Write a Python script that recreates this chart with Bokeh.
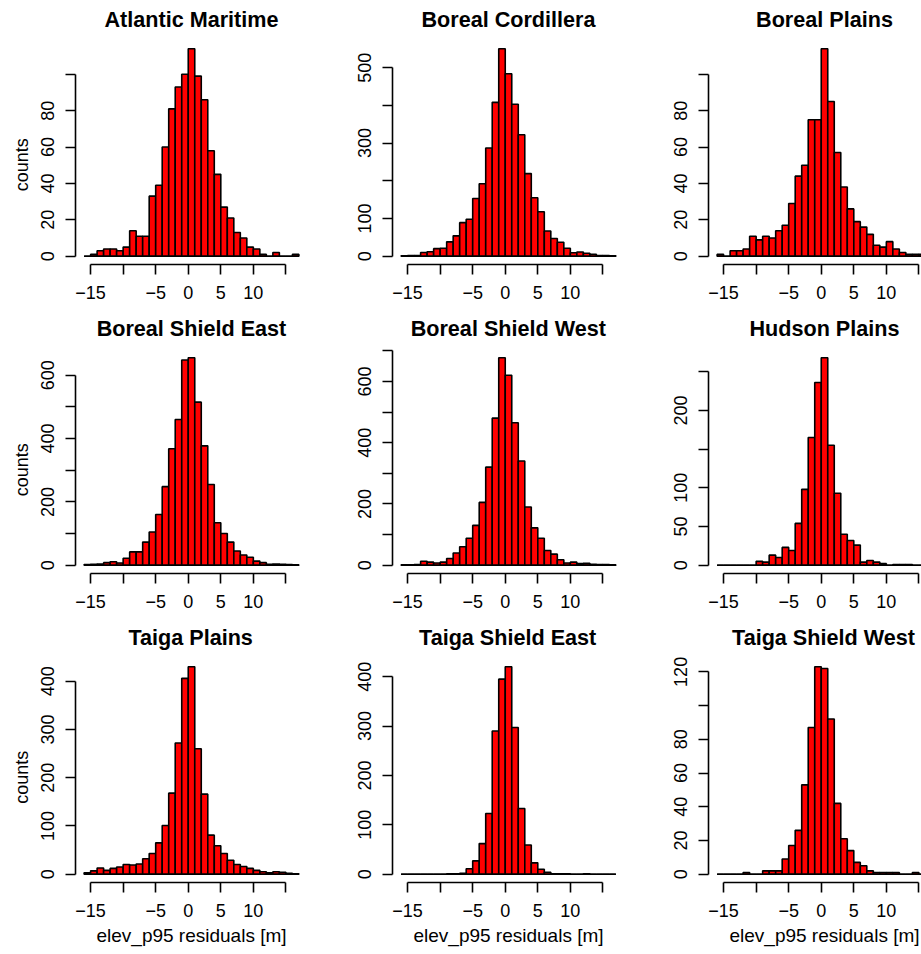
from bokeh.plotting import figure
from bokeh.layouts import gridplot
from bokeh.models import Range1d, FixedTicker, Title
from bokeh.embed import file_html
from bokeh.resources import INLINE

# ---------------- data ----------------
REGIONS = ["Atlantic Maritime", "Boreal Cordillera", "Boreal Plains",
           "Boreal Shield East", "Boreal Shield West", "Hudson Plains",
           "Taiga Plains", "Taiga Shield East", "Taiga Shield West"]

BIN_EDGES = list(range(-16, 18))  # 1 m wide bins, -16 ... 17

atlantic_maritime = [0, 1, 3, 4, 4, 3, 5, 14, 11, 11, 33, 39, 60, 81, 93, 100, 114,
                     99, 86, 58, 45, 27, 21, 13, 10, 5, 4, 1, 0, 2, 0, 0, 1]
boreal_cordillera = [1, 2, 2, 10, 12, 20, 21, 38, 54, 89, 98, 153, 192, 287, 408, 550, 484,
                     403, 322, 219, 155, 118, 67, 47, 37, 21, 9, 11, 8, 5, 2, 2, 1]
boreal_plains = [1, 0, 3, 3, 4, 11, 9, 11, 10, 14, 17, 29, 44, 50, 75, 75, 114,
                 85, 57, 38, 26, 19, 16, 12, 6, 5, 8, 4, 2, 1, 1, 1, 0]
boreal_shield_east = [2, 3, 4, 8, 11, 7, 22, 42, 42, 73, 105, 160, 248, 368, 460, 648, 655,
                      515, 377, 255, 134, 100, 73, 45, 32, 25, 13, 8, 3, 4, 3, 2, 1]
boreal_shield_west = [1, 1, 2, 13, 10, 7, 10, 22, 40, 60, 88, 130, 205, 320, 480, 677, 620,
                      465, 340, 190, 122, 88, 48, 36, 18, 7, 10, 5, 6, 3, 2, 2, 1]
hudson_plains = [0, 0, 0, 0, 0, 0, 5, 4, 13, 10, 23, 19, 54, 98, 165, 236, 268,
                 155, 93, 40, 32, 26, 4, 6, 4, 2, 0, 1, 1, 1, 0, 0, 0]
taiga_plains = [3, 7, 13, 8, 12, 15, 20, 19, 21, 32, 43, 65, 101, 168, 272, 406, 430,
                260, 166, 81, 59, 43, 29, 20, 16, 12, 8, 5, 3, 5, 4, 2, 1]
taiga_shield_east = [0, 0, 0, 0, 0, 0, 0, 1, 1, 2, 11, 27, 62, 123, 290, 395, 420,
                     297, 133, 59, 23, 10, 4, 1, 1, 1, 0, 0, 1, 0, 0, 0, 0]
taiga_shield_west = [0, 0, 0, 0, 1, 0, 0, 2, 2, 2, 9, 17, 26, 53, 87, 123, 122,
                     92, 42, 21, 14, 7, 5, 2, 1, 1, 1, 1, 0, 0, 1, 0, 0]

X_TICKS = [-15, -10, -5, 0, 5, 10, 15]
X_TICK_LABELS = ["\u221215", "", "\u22125", "0", "5", "10", ""]

Y_TICKS_AM = [0, 20, 40, 60, 80, 100]
Y_LABELS_AM = ["0", "20", "40", "60", "80", ""]
Y_TICKS_BC = [0, 100, 200, 300, 400, 500]
Y_LABELS_BC = ["0", "100", "", "300", "", "500"]
Y_TICKS_BP = [0, 20, 40, 60, 80, 100]
Y_LABELS_BP = ["0", "20", "40", "60", "80", ""]
Y_TICKS_BSE = [0, 100, 200, 300, 400, 500, 600]
Y_LABELS_BSE = ["0", "", "200", "", "400", "", "600"]
Y_TICKS_BSW = [0, 100, 200, 300, 400, 500, 600, 700]
Y_LABELS_BSW = ["0", "", "200", "", "400", "", "600", ""]
Y_TICKS_HP = [0, 50, 100, 150, 200, 250]
Y_LABELS_HP = ["0", "50", "100", "", "200", ""]
Y_TICKS_TP = [0, 100, 200, 300, 400]
Y_LABELS_TP = ["0", "100", "200", "300", "400"]
Y_TICKS_TSE = [0, 100, 200, 300, 400]
Y_LABELS_TSE = ["0", "100", "200", "300", "400"]
Y_TICKS_TSW = [0, 20, 40, 60, 80, 100, 120]
Y_LABELS_TSW = ["0", "20", "40", "60", "80", "", "120"]

X_LABEL = "elev_p95 residuals [m]"
Y_LABEL = "counts"

SERIES = [atlantic_maritime, boreal_cordillera, boreal_plains,
          boreal_shield_east, boreal_shield_west, hudson_plains,
          taiga_plains, taiga_shield_east, taiga_shield_west]
YTICKS = [Y_TICKS_AM, Y_TICKS_BC, Y_TICKS_BP, Y_TICKS_BSE, Y_TICKS_BSW,
          Y_TICKS_HP, Y_TICKS_TP, Y_TICKS_TSE, Y_TICKS_TSW]
YLABELS = [Y_LABELS_AM, Y_LABELS_BC, Y_LABELS_BP, Y_LABELS_BSE, Y_LABELS_BSW,
           Y_LABELS_HP, Y_LABELS_TP, Y_LABELS_TSE, Y_LABELS_TSW]

# ---------------- layout / style ----------------
FONT = "Liberation Sans"
TITLE_SIZE = 21.6
LABEL_SIZE = 18.0
XLAB_SIZE = 19.0

COL_W = [325, 316, 280]
ROW_H = [309, 309, 336]
BORDER_L = [75, 67, 67]
BORDER_R = [18, 17, 0]
BORDER_T = 39
FRAME_H = 225
FULL_FRAME_W = 232
LW = 1.6

# advance widths (1/1000 em) of the Arial-metric Liberation Sans faces, used to
# place left-aligned texts so that their centre sits where R centres them
BOLD_W = {" ": 278, "A": 722, "B": 722, "C": 722, "E": 667, "H": 722, "M": 833,
          "P": 667, "S": 667, "T": 611, "W": 944, "a": 556, "c": 556, "d": 611,
          "e": 556, "g": 611, "h": 611, "i": 278, "l": 278, "m": 889, "n": 611,
          "o": 611, "r": 389, "s": 556, "t": 333, "u": 611}
REG_W = {" ": 278, "[": 278, "]": 278, "_": 556, "5": 556, "9": 556, "a": 556,
         "c": 500, "d": 556, "e": 556, "i": 222, "l": 222, "m": 833, "n": 556,
         "o": 556, "p": 556, "r": 333, "s": 500, "t": 278, "u": 556, "v": 500}


def text_width(s, table, size):
    return sum(table.get(ch, 556) for ch in s) / 1000.0 * size


def make_panel(i):
    r, c = divmod(i, 3)
    counts = SERIES[i]
    w, h = COL_W[c], ROW_H[r]
    frame_w = w - BORDER_L[c] - BORDER_R[c]
    span = BIN_EDGES[-1] - BIN_EDGES[0]
    xs = BIN_EDGES[0] - 0.04 * span
    xe_full = BIN_EDGES[-1] + 0.04 * span
    ppu_x = FULL_FRAME_W / (xe_full - xs)
    xe = xs + frame_w / ppu_x
    m = max(counts)
    ys, ye = -0.04 * m, 1.04 * m
    ppu_y = FRAME_H / (ye - ys)

    p = figure(width=w, height=h, x_range=Range1d(xs, xe), y_range=Range1d(ys, ye),
               output_backend="svg", toolbar_location=None,
               min_border_left=BORDER_L[c], min_border_right=BORDER_R[c],
               min_border_top=BORDER_T, min_border_bottom=h - BORDER_T - FRAME_H)
    p.outline_line_color = None
    p.grid.visible = False
    p.background_fill_color = "white"
    p.border_fill_color = "white"

    p.quad(left=BIN_EDGES[:-1], right=BIN_EDGES[1:], bottom=0, top=counts,
           fill_color="#FF0000", line_color="black", line_width=LW)
    p.segment(x0=[BIN_EDGES[0]], y0=[0], x1=[BIN_EDGES[-1]], y1=[0],
              line_color="black", line_width=LW)

    for ax in (p.xaxis[0], p.yaxis[0]):
        ax.axis_line_width = LW
        ax.major_tick_line_width = LW
        ax.axis_line_color = "black"
        ax.major_tick_line_color = "black"
        ax.minor_tick_line_color = None
        ax.major_tick_in = 0
        ax.major_tick_out = 10
        ax.major_label_text_font = FONT
        ax.major_label_text_font_size = f"{LABEL_SIZE}px"
        ax.major_label_text_color = "black"

    xa = p.xaxis[0]
    xa.ticker = FixedTicker(ticks=X_TICKS)
    xa.major_label_overrides = dict(zip(X_TICKS, X_TICK_LABELS))
    xa.bounds = (X_TICKS[0], X_TICKS[-1])
    xa.major_label_standoff = 11

    ya = p.yaxis[0]
    ya.ticker = FixedTicker(ticks=YTICKS[i])
    ya.major_label_overrides = dict(zip(YTICKS[i], YLABELS[i]))
    ya.bounds = (YTICKS[i][0], YTICKS[i][-1])
    ya.major_label_orientation = "vertical"
    ya.major_label_standoff = 11

    # centre of R's plot region, in px from the left of the frame
    centre_px = ((xs + xe_full) / 2.0 - xs) * ppu_x

    t = p.title
    t.text = REGIONS[i]
    t.align = "left"
    t.offset = centre_px - text_width(REGIONS[i], BOLD_W, TITLE_SIZE) / 2.0
    t.vertical_align = "top"
    t.standoff = 13
    t.text_font = FONT
    t.text_font_size = f"{TITLE_SIZE}px"
    t.text_font_style = "bold"
    t.text_color = "black"

    if r == 2:
        xl = Title(text=X_LABEL, align="left",
                   offset=centre_px - text_width(X_LABEL, REG_W, XLAB_SIZE) / 2.0,
                   vertical_align="top", standoff=11,
                   text_font=FONT, text_font_size=f"{XLAB_SIZE}px",
                   text_font_style="normal", text_color="black")
        p.add_layout(xl, "below")
    if c == 0:
        mid = (YTICKS[i][0] + YTICKS[i][-1]) / 2.0
        off = (mid - ys) * ppu_y - text_width(Y_LABEL, REG_W, LABEL_SIZE) / 2.0
        yl = Title(text=Y_LABEL, align="left", offset=off,
                   vertical_align="top", standoff=10,
                   text_font=FONT, text_font_size=f"{LABEL_SIZE}px",
                   text_font_style="normal", text_color="black")
        p.add_layout(yl, "left")
    return p


panels = [make_panel(i) for i in range(9)]
grid = gridplot([panels[0:3], panels[3:6], panels[6:9]], toolbar_location=None)

open("out.html", "w").write(file_html(grid, INLINE))
